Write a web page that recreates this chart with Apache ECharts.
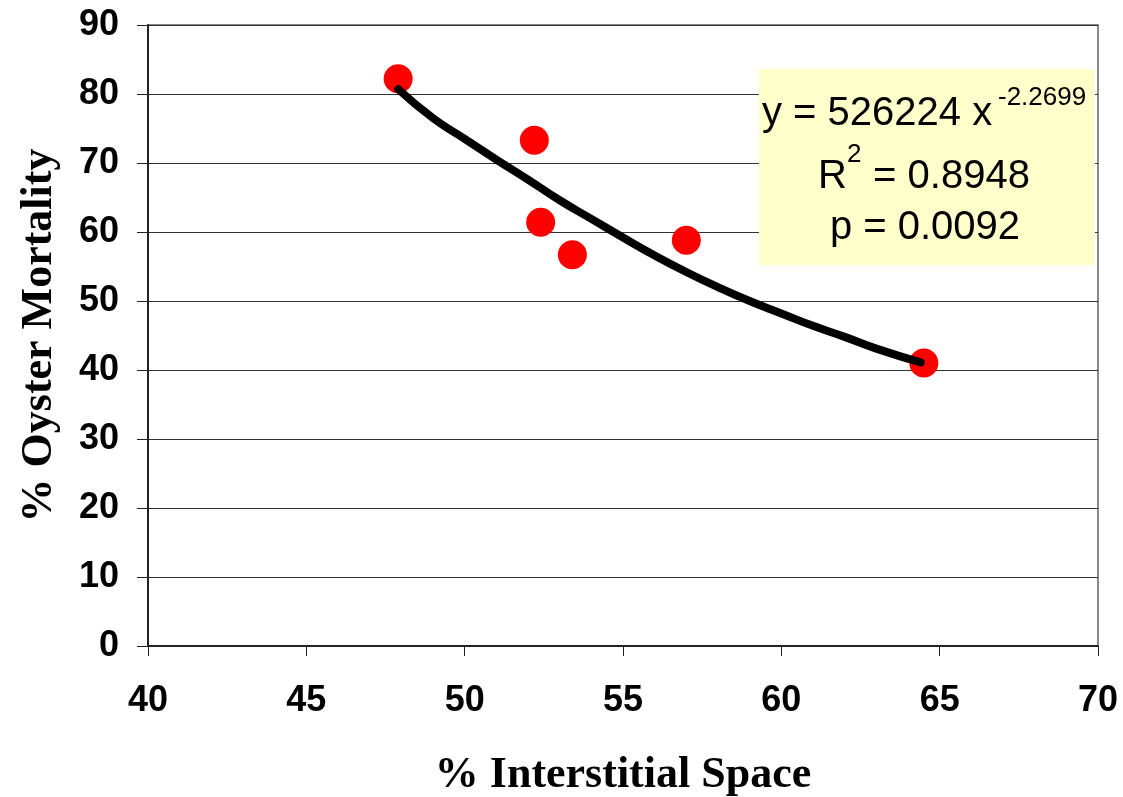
<!DOCTYPE html>
<html>
<head>
<meta charset="utf-8">
<title>Oyster Mortality</title>
<script src="https://cdn.jsdelivr.net/npm/echarts@6/dist/echarts.min.js"></script>
<style>
  html, body { margin: 0; padding: 0; background: #fff; }
  #main { width: 1123px; height: 797px; }
</style>
</head>
<body>
<div id="main"></div>
<script>
// observed sites
var obsX = [47.9, 52.2, 52.4, 53.4, 57.0, 64.5];
var obsY = [82.2, 73.3, 61.4, 56.7, 58.8, 41.0];

// power trend line
var trendX = [47.9, 49, 50, 51, 52, 53, 54, 55, 56, 57, 58, 59, 60, 61, 62, 63, 64.4];
var trendY = [80.7, 76.5, 73.5, 70.5, 67.6, 64.6, 61.9, 59.2, 56.6, 54.2, 52.0, 50.0, 48.2, 46.4, 44.8, 43.1, 41.1];

var xTicks = [40, 45, 50, 55, 60, 65, 70];
var yTicks = [0, 10, 20, 30, 40, 50, 60, 70, 80, 90];

var eqText = 'y = 526224 x';
var eqPow = '-2.2699';
var r2Pow = '2';
var r2Text = ' = 0.8948';
var pText = 'p = 0.0092';

var obsData = [];
for (var i = 0; i < obsX.length; i++) obsData.push([obsX[i], obsY[i]]);
var trendData = [];
for (var j = 0; j < trendX.length; j++) trendData.push([trendX[j], trendY[j]]);

var sans = '"Liberation Sans", Arial, sans-serif';
var serif = '"Liberation Serif", "Times New Roman", serif';

var myChart = echarts.init(document.getElementById('main'), null, { renderer: 'canvas' });

var option = {
  animation: false,
  backgroundColor: '#ffffff',
  grid: {
    left: 148, right: 25, top: 25, bottom: 151,
    containLabel: false,
    outerBoundsMode: 'none',
    show: true,
    borderColor: '#888888',
    borderWidth: 2,
    backgroundColor: 'transparent'
  },
  xAxis: {
    type: 'value',
    min: xTicks[0],
    max: xTicks[xTicks.length - 1],
    interval: 5,
    name: '% Interstitial Space',
    nameLocation: 'middle',
    nameGap: 108,
    nameMoveOverlap: false,
    nameTextStyle: { fontFamily: serif, fontWeight: 'bold', fontSize: 44, color: '#000' },
    axisLine: { show: true, lineStyle: { color: '#222', width: 2 } },
    axisTick: { show: true, inside: false, length: 10, lineStyle: { color: '#222', width: 1 } },
    axisLabel: { margin: 37, fontFamily: sans, fontWeight: 'bold', fontSize: 36, color: '#000',
                 showMinLabel: true, showMaxLabel: true },
    splitLine: { show: false }
  },
  yAxis: {
    type: 'value',
    min: yTicks[0],
    max: yTicks[yTicks.length - 1],
    interval: 10,
    name: '% Oyster Mortality',
    nameLocation: 'middle',
    nameGap: 86,
    nameMoveOverlap: false,
    nameTextStyle: { fontFamily: serif, fontWeight: 'bold', fontSize: 44, color: '#000' },
    axisLine: { show: true, lineStyle: { color: '#222', width: 2 } },
    axisTick: { show: true, inside: false, length: 11, lineStyle: { color: '#222', width: 1 } },
    axisLabel: { margin: 29, fontFamily: sans, fontWeight: 'bold', fontSize: 36, color: '#000',
                 showMinLabel: true, showMaxLabel: true },
    splitLine: { show: true, lineStyle: { color: '#333', width: 1 } }
  },
  series: [
    {
      name: 'Sites',
      type: 'scatter',
      data: obsData,
      symbol: 'circle',
      symbolSize: 29,
      itemStyle: { color: '#ff0000', opacity: 1 },
      z: 2
    },
    {
      name: 'Power fit',
      type: 'line',
      data: trendData,
      smooth: true,
      showSymbol: false,
      symbol: 'none',
      lineStyle: { color: '#000', width: 8, cap: 'round', join: 'round' },
      z: 3
    }
  ],
  graphic: [
    {
      type: 'rect',
      shape: { x: 759, y: 69, width: 336, height: 196 },
      style: { fill: '#ffffcc' },
      z: 10
    },
    {
      type: 'text', x: 762, y: 114, z: 11,
      style: { text: eqText, font: '40px ' + sans, fill: '#000', textVerticalAlign: 'middle', verticalAlign: 'middle' }
    },
    {
      type: 'text', x: 998, y: 98, z: 11,
      style: { text: eqPow, font: '26px ' + sans, fill: '#000', textVerticalAlign: 'middle', verticalAlign: 'middle' }
    },
    {
      type: 'text', x: 818, y: 177, z: 11,
      style: { text: 'R', font: '40px ' + sans, fill: '#000', textVerticalAlign: 'middle', verticalAlign: 'middle' }
    },
    {
      type: 'text', x: 847, y: 155, z: 11,
      style: { text: r2Pow, font: '26px ' + sans, fill: '#000', textVerticalAlign: 'middle', verticalAlign: 'middle' }
    },
    {
      type: 'text', x: 862, y: 177, z: 11,
      style: { text: r2Text, font: '40px ' + sans, fill: '#000', textVerticalAlign: 'middle', verticalAlign: 'middle' }
    },
    {
      type: 'text', x: 925, y: 228, z: 11,
      style: { text: pText, font: '40px ' + sans, fill: '#000', textAlign: 'center', align: 'center',
               textVerticalAlign: 'middle', verticalAlign: 'middle' }
    }
  ]
};

myChart.setOption(option);
</script>
</body>
</html>
